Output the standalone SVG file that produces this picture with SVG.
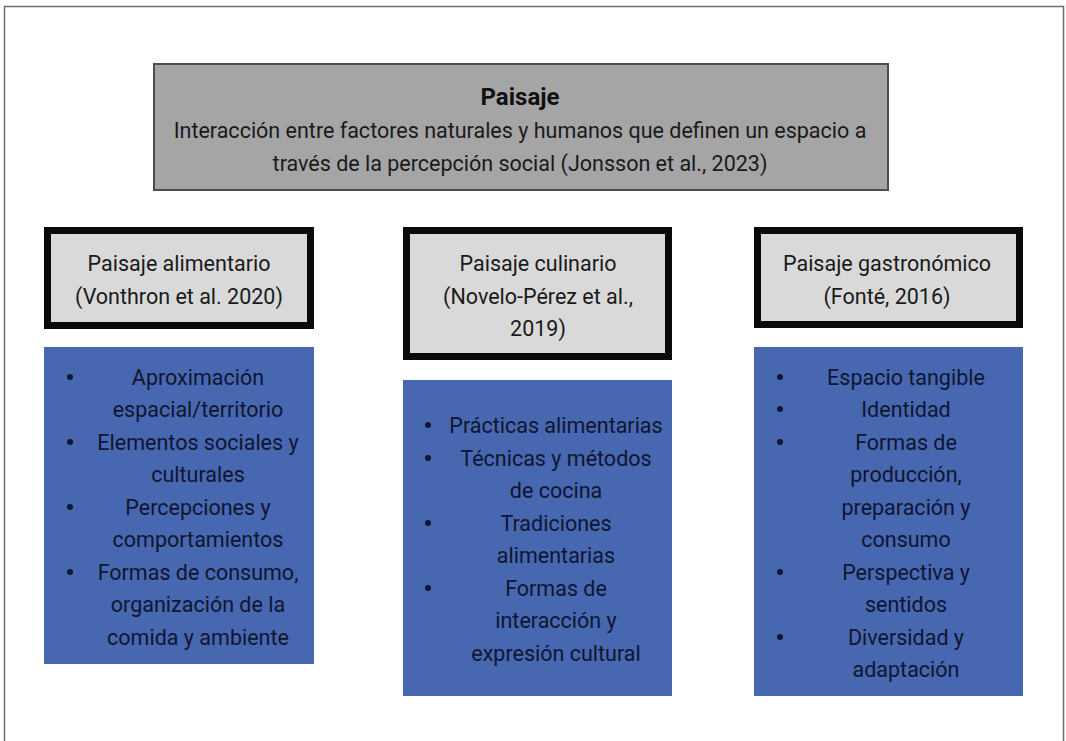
<svg xmlns="http://www.w3.org/2000/svg" width="1066" height="741" viewBox="0 0 1066 741">
<style>
  text { font-family: Roboto, "Liberation Sans", sans-serif; font-size: 21.5px; fill: #1a1a1a; text-anchor: middle; }
  .title { font-weight: bold; fill: #111; font-size: 24px; }
  .blue text { fill: #0f1630; }
  .hdr { fill: #d9d9d9; stroke: #0a0a0a; stroke-width: 7; }
  .bl { fill: #4767b1; }
  .dot { fill: #0f1630; }
</style>
<rect x="0" y="0" width="1066" height="741" fill="#ffffff"/>
<path d="M4.5 745 V6.5 H1063.5 V745" fill="none" stroke="#6e6e6e" stroke-width="1.5"/>

<g id="paisaje">
  <rect x="154" y="64" width="734" height="126" fill="#a5a5a6" stroke="#4d4d4d" stroke-width="2"/>
  <text class="title" x="520" y="105">Paisaje</text>
  <text x="520" y="138">Interacción entre factores naturales y humanos que definen un espacio a</text>
  <text x="520" y="171">través de la percepción social (Jonsson et al., 2023)</text>
</g>

<g id="alimentario">
  <rect class="hdr" x="47.5" y="230.5" width="263" height="95"/>
  <text x="179" y="271">Paisaje alimentario</text>
  <text x="179" y="304">(Vonthron et al. 2020)</text>
</g>
<g id="alimentario-lista" class="blue">
  <rect class="bl" x="44" y="347" width="270" height="317"/>
  <circle class="dot" cx="70" cy="377" r="3"/>
  <circle class="dot" cx="70" cy="442" r="3"/>
  <circle class="dot" cx="70" cy="507" r="3"/>
  <circle class="dot" cx="70" cy="572" r="3"/>
  <text x="198" y="385">Aproximación</text>
  <text x="198" y="417">espacial/territorio</text>
  <text x="198" y="450">Elementos sociales y</text>
  <text x="198" y="482">culturales</text>
  <text x="198" y="515">Percepciones y</text>
  <text x="198" y="547">comportamientos</text>
  <text x="198" y="580">Formas de consumo,</text>
  <text x="198" y="612">organización de la</text>
  <text x="198" y="645">comida y ambiente</text>
</g>

<g id="culinario">
  <rect class="hdr" x="406.5" y="230.5" width="262" height="126"/>
  <text x="538" y="271">Paisaje culinario</text>
  <text x="538" y="304">(Novelo-Pérez et al.,</text>
  <text x="538" y="336">2019)</text>
</g>
<g id="culinario-lista" class="blue">
  <rect class="bl" x="403" y="380" width="269" height="316"/>
  <circle class="dot" cx="428" cy="425" r="3"/>
  <circle class="dot" cx="428" cy="458" r="3"/>
  <circle class="dot" cx="428" cy="523" r="3"/>
  <circle class="dot" cx="428" cy="588" r="3"/>
  <text x="556" y="433">Prácticas alimentarias</text>
  <text x="556" y="466">Técnicas y métodos</text>
  <text x="556" y="498">de cocina</text>
  <text x="556" y="531">Tradiciones</text>
  <text x="556" y="563">alimentarias</text>
  <text x="556" y="596">Formas de</text>
  <text x="556" y="628">interacción y</text>
  <text x="556" y="661">expresión cultural</text>
</g>

<g id="gastronomico">
  <rect class="hdr" x="757.5" y="230.5" width="262" height="94"/>
  <text x="887" y="271">Paisaje gastronómico</text>
  <text x="887" y="304">(Fonté, 2016)</text>
</g>
<g id="gastronomico-lista" class="blue">
  <rect class="bl" x="754" y="347" width="269" height="349"/>
  <circle class="dot" cx="780" cy="377" r="3"/>
  <circle class="dot" cx="780" cy="409" r="3"/>
  <circle class="dot" cx="780" cy="442" r="3"/>
  <circle class="dot" cx="780" cy="572" r="3"/>
  <circle class="dot" cx="780" cy="637" r="3"/>
  <text x="906" y="385">Espacio tangible</text>
  <text x="906" y="417">Identidad</text>
  <text x="906" y="450">Formas de</text>
  <text x="906" y="482">producción,</text>
  <text x="906" y="515">preparación y</text>
  <text x="906" y="547">consumo</text>
  <text x="906" y="580">Perspectiva y</text>
  <text x="906" y="612">sentidos</text>
  <text x="906" y="645">Diversidad y</text>
  <text x="906" y="677">adaptación</text>
</g>

<g id="connectors"></g>
</svg>
